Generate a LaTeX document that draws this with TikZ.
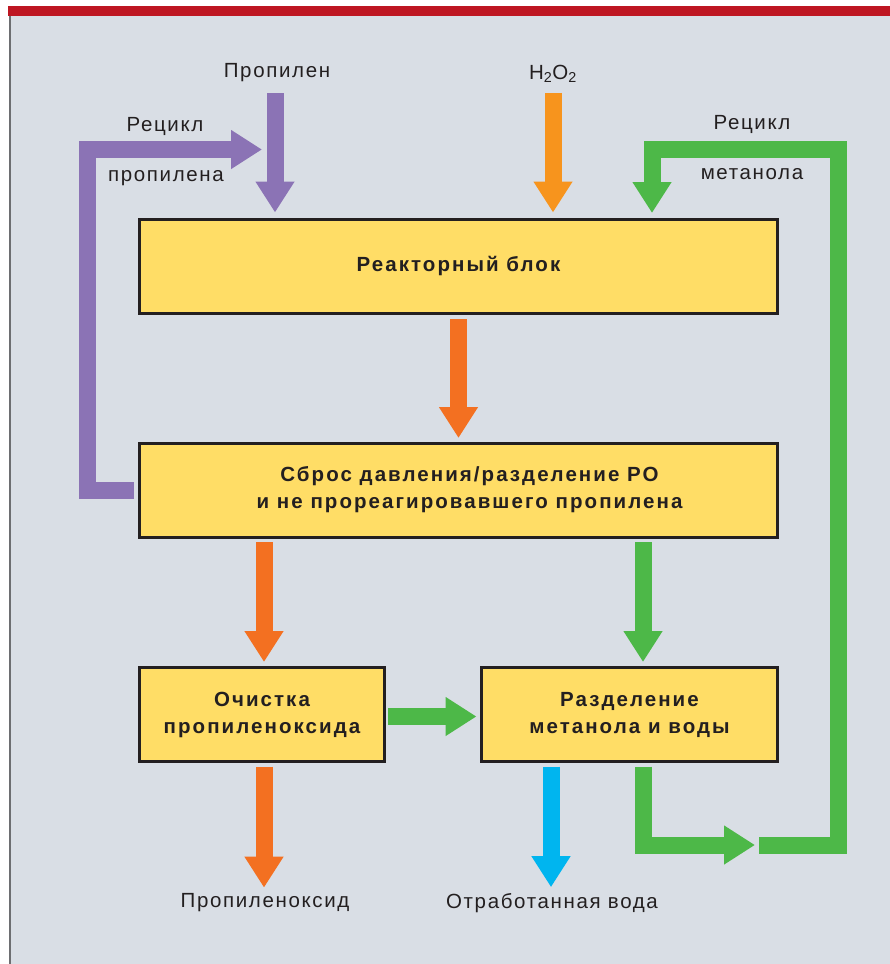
\documentclass[tikz,border=0pt]{standalone}
\usepackage{fontspec}
\setmainfont{Liberation Sans}[LetterSpace=8,BoldFeatures={LetterSpace=10}]
\usetikzlibrary{arrows.meta,positioning}

\definecolor{bgcol}{HTML}{D9DEE5}
\definecolor{barcol}{HTML}{BE1622}
\definecolor{edgecol}{HTML}{6D6E71}
\definecolor{boxfill}{HTML}{FFDD66}
\definecolor{boxline}{HTML}{231F20}
\definecolor{textcol}{HTML}{231F20}
\definecolor{propcol}{HTML}{8B73B5}
\definecolor{perocol}{HTML}{F7941D}
\definecolor{maincol}{HTML}{F37021}
\definecolor{methcol}{HTML}{4DB848}
\definecolor{watercol}{HTML}{00B5EF}

\begin{document}
\begin{tikzpicture}[x=1pt,y=-1pt]
  % Styles
  \tikzstyle{block}=[draw=boxline,line width=3pt,fill=boxfill,minimum width=638pt,minimum height=94pt,
    align=center,text=textcol,font=\fontsize{20.5}{27}\selectfont\bfseries]
  \tikzstyle{flowtext}=[inner sep=0pt,text=textcol,font=\fontsize{20.5}{24}\selectfont]
  \tikzstyle{flow}=[line width=17pt,-{Triangle[length=31pt,width=37pt]}]

  % Frame
  \useasboundingbox (0,0) rectangle (890,964);
  \fill[bgcol] (9,15) rectangle (890,964);
  \fill[barcol] (8,6) rectangle (890,15.5);
  \draw[edgecol,line width=2pt] (9.5,15.5) -- (9.5,964);

  % Blocks
  \node[block] (reactor) at (458.5,266) {Реакторный блок};
  \node[block,below=127pt of reactor] (sep)
    {\hspace*{22pt}Сброс давления/разделение РО\\\hspace*{22pt}и не прореагировавшего пропилена};
  \node[block,minimum width=245pt] (och) at (262,714.5) {Очистка\\пропиленоксида};
  \node[block,minimum width=296pt] (razd) at (629.5,714.5) {Разделение\\метанола и воды};

  % Texts
  \node[flowtext] (lprop) at (277,73) {Пропилен};
  \node[flowtext] (lperox) at (553,74) {H\textsubscript{2}O\textsubscript{2}};
  \node[flowtext] (lrec1) at (165,126) {Рецикл};
  \node[flowtext] (lrec2) at (166,178) {пропилена};
  \node[flowtext] (lrec3) at (752,124) {Рецикл};
  \node[flowtext] (lrec4) at (752,174) {метанола};
  \node[flowtext] (lpo) at (265,903) {Пропиленоксид};
  \node[flowtext] (lwater) at (552,903) {Отработанная вода};

  % Corners of the recycle lines
  \coordinate (pcorner) at (87,149.5);
  \coordinate (gmid) at (755,845);
  \coordinate (gstart) at (759,845);
  \coordinate (gcorner) at (838.7,149);
  \coordinate (gin) at (652,0);

  % Feeds
  \draw[flow,propcol,shorten <=11pt,shorten >=5pt] ([xshift=-2pt]lprop.south) -- ([xshift=-2pt]lprop.south |- reactor.north);
  \draw[flow,perocol,shorten <=10pt,shorten >=5pt] (lperox.south) -- (lperox.south |- reactor.north);

  % Main line
  \draw[flow,maincol,shorten <=4.5pt,shorten >=3.5pt] (reactor.south) -- (sep.north);
  \draw[flow,maincol,shorten <=3.5pt,shorten >=4pt] ([xshift=2pt]och.north |- sep.south) -- ([xshift=2pt]och.north);
  \draw[flow,methcol,shorten <=3.5pt,shorten >=4pt] ([xshift=13.5pt]razd.north |- sep.south) -- ([xshift=13.5pt]razd.north);
  \draw[flow,methcol,shorten <=2pt,shorten >=3.5pt] ([yshift=-2pt]och.east) -- ([yshift=-2pt]razd.west);
  \draw[flow,maincol,shorten <=3.5pt,shorten >=6pt] ([xshift=-1pt]lpo.north |- och.south) -- ([xshift=-1pt]lpo.north);
  \draw[flow,watercol,shorten <=3.5pt,shorten >=6pt] ([xshift=-1pt]lwater.north |- razd.south) -- ([xshift=-1pt]lwater.north);

  % Recycles
  \draw[flow,propcol,shorten <=4pt,shorten >=15pt] (sep.west) -| (pcorner) -- (pcorner -| lprop.south);
  \draw[flow,methcol,shorten <=3.5pt] ([xshift=13.5pt]razd.south) |- (gmid);
  \draw[flow,methcol,shorten >=4.5pt] (gstart) -| (gcorner) -| (gin |- reactor.north);
\end{tikzpicture}
\end{document}
